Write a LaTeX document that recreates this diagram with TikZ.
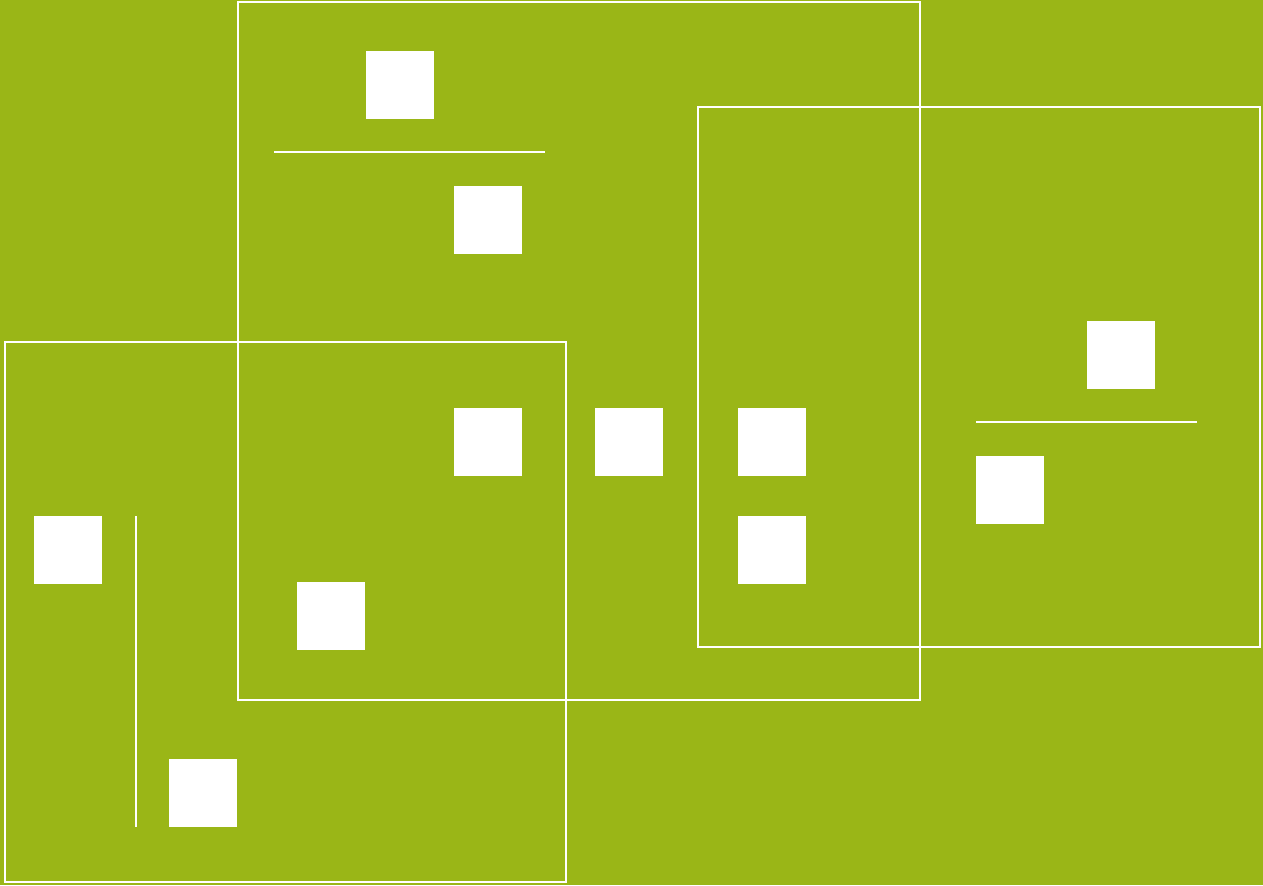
\documentclass[tikz,border=0pt]{standalone}
\definecolor{bggreen}{HTML}{9AB617}
\tikzset{
    block/.style={fill=white, draw=none, minimum size=1.36cm, inner sep=0pt},
    frame/.style={draw=white, line width=1.2pt},
    bar/.style={draw=white, line width=1.3pt}
}
\begin{document}
\begin{tikzpicture}[x=0.02cm, y=-0.02cm]
    \fill[bggreen] (0, 0) rectangle (1263, 885);
    \useasboundingbox (0, 0) rectangle (1263, 885);
    % frames
    \draw[frame] (238, 2) rectangle (920, 700);
    \draw[frame] (698, 107) rectangle (1260, 647);
    \draw[frame] (5, 342) rectangle (566, 882);
    % blocks
    \node[block] (a) at (400, 85) {};
    \node[block] (b) at (488, 220) {};
    \node[block] (c) at (488, 442) {};
    \node[block] (d) at (629, 442) {};
    \node[block] (e) at (772, 442) {};
    \node[block] (f) at (772, 550) {};
    \node[block] (g) at (1121, 355) {};
    \node[block] (h) at (1010, 490) {};
    \node[block] (i) at (68, 550) {};
    \node[block] (j) at (331, 616) {};
    \node[block] (k) at (203, 793) {};
    % bars
    \coordinate (B1) at (274, 152);
    \coordinate (B2) at (545, 152);
    \coordinate (B3) at (976, 422);
    \coordinate (B4) at (1197, 422);
    \coordinate (B5) at (136, 516);
    \coordinate (B6) at (136, 827);
    \draw[bar] (B1) -- (B2);
    \draw[bar] (B3) -- (B4);
    \draw[bar] (B5) -- (B6);
\end{tikzpicture}
\end{document}
